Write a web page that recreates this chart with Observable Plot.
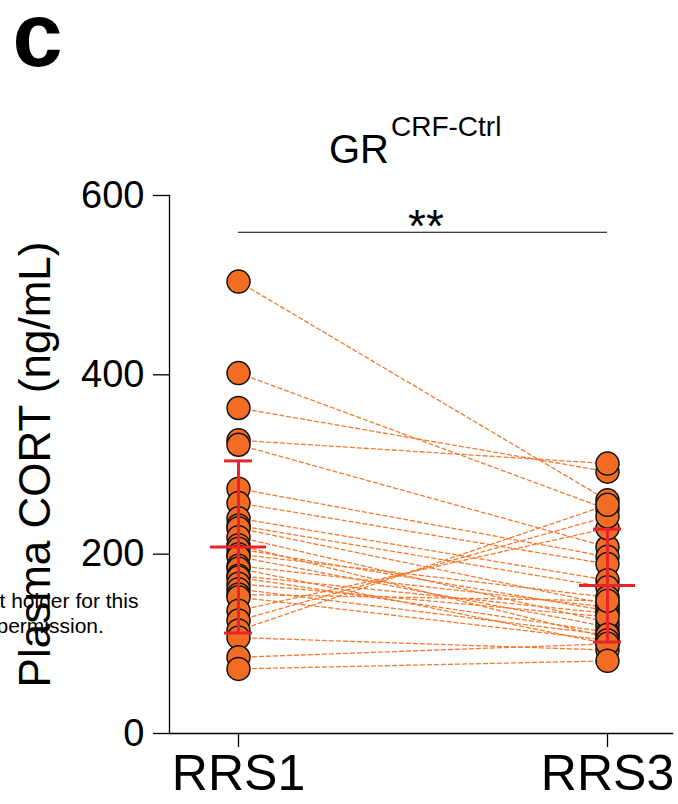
<!DOCTYPE html>
<html><head><meta charset="utf-8">
<script src="https://cdn.jsdelivr.net/npm/d3@7"></script>
<script src="https://cdn.jsdelivr.net/npm/@observablehq/plot@0.6"></script>
<style>body{margin:0;background:#fff} svg{display:block}</style>
</head><body><div id="chart"></div>
<script>
const sessions = ["RRS1", "RRS3"];
const cortRRS1 = [504, 402, 363, 327, 322, 273, 257, 240, 232, 229, 219, 210, 206, 200, 197, 187, 184, 176, 174, 167, 161, 155, 152, 137, 126, 115, 107, 85, 72];
const cortRRS3 = [260, 250, 292, 301, 208, 197, 189, 171, 163, 144, 124, 107, 137, 152, 119, 141, 100, 134, 113, 130, 110, 148, 104, 229, 242, 255, 93, 100, 81];
const meanCORT = [208, 165];
const sdCORT = [96, 63];
const yTicks = [0, 200, 400, 600];
const sigLevel = [559];
const sigLabel = ["**"];
const panelLabel = ["c"];
const titleMain = ["GR"];
const titleSup = ["CRF-Ctrl"];
const yLabel = ["Plasma CORT (ng/mL)"];
const noteLines = ["t holder for this", "permission."];

const points = cortRRS1.flatMap((v, i) => [
  {animal: i, session: "RRS1", cort: v},
  {animal: i, session: "RRS3", cort: cortRRS3[i]}
]);
const stats = sessions.map((s, i) => ({session: s, mean: meanCORT[i], lo: meanCORT[i] - sdCORT[i], hi: meanCORT[i] + sdCORT[i]}));
const bracket = [{y: sigLevel[0], from: sessions[0], to: sessions[1]}];

const red = "#e8232b";
const orange = "#f26c23";
const font = "'Liberation Sans', Arial, Helvetica, sans-serif";

const chart = Plot.plot({
  width: 678, height: 804,
  marginTop: 195, marginBottom: 71, marginLeft: 169, marginRight: 6,
  style: {fontFamily: font, background: "#fff", color: "#000"},
  x: {type: "point", domain: sessions, range: [238, 607], padding: 0},
  y: {domain: [0, 600]},
  marks: [
    Plot.text([noteLines[0]], {frameAnchor: "left", textAnchor: "start", lineAnchor: "bottom", dx: -170, dy: 143, fontSize: 21}),
    Plot.text([noteLines[1]], {frameAnchor: "left", textAnchor: "start", lineAnchor: "bottom", dx: -173, dy: 168, fontSize: 21}),
    Plot.frame({anchor: "left", strokeWidth: 1.3}),
    Plot.frame({anchor: "bottom", strokeWidth: 1.3}),
    Plot.axisY({ticks: yTicks, tickSize: 16, tickPadding: 9, fontSize: 38, label: null, strokeWidth: 1.3}),
    Plot.axisX({tickSize: 14, tickPadding: 7, fontSize: 50, label: null, strokeWidth: 1.3}),
    Plot.line(points, {x: "session", y: "cort", z: "animal", stroke: "#f47a2e", strokeWidth: 1.3, strokeDasharray: "4,3"}),
    Plot.dot(points, {x: "session", y: "cort", r: 11.5, fill: orange, stroke: "#111", strokeWidth: 1.5}),
    Plot.ruleX(stats, {x: "session", y1: "lo", y2: "hi", stroke: red, strokeWidth: 3}),
    Plot.ruleY(stats, {y: "lo", x1: "session", x2: "session", insetLeft: -14, insetRight: -14, stroke: red, strokeWidth: 3}),
    Plot.ruleY(stats, {y: "hi", x1: "session", x2: "session", insetLeft: -14, insetRight: -14, stroke: red, strokeWidth: 3}),
    Plot.ruleY(stats, {y: "mean", x1: "session", x2: "session", insetLeft: -28, insetRight: -28, stroke: red, strokeWidth: 3}),
    Plot.ruleY(bracket, {y: "y", x1: "from", x2: "to", stroke: "#000", strokeWidth: 1.2}),
    Plot.text(sigLabel, {y: sigLevel, frameAnchor: "middle", lineAnchor: "bottom", dx: 5, dy: 10, fontSize: 46}),
    Plot.text(titleMain, {frameAnchor: "top", textAnchor: "start", lineAnchor: "bottom", dx: -92, dy: -33, fontSize: 40}),
    Plot.text(titleSup, {frameAnchor: "top", textAnchor: "start", lineAnchor: "bottom", dx: -30, dy: -60, fontSize: 28}),
    Plot.text(panelLabel, {frameAnchor: "top-left", textAnchor: "start", lineAnchor: "bottom", dx: -157, dy: -130, fontSize: 90, fontWeight: "bold"}),
    Plot.text(yLabel, {frameAnchor: "left", textAnchor: "middle", rotate: -90, dx: -134, fontSize: 44})
  ]
});
document.getElementById("chart").appendChild(chart);
</script>
</body></html>
